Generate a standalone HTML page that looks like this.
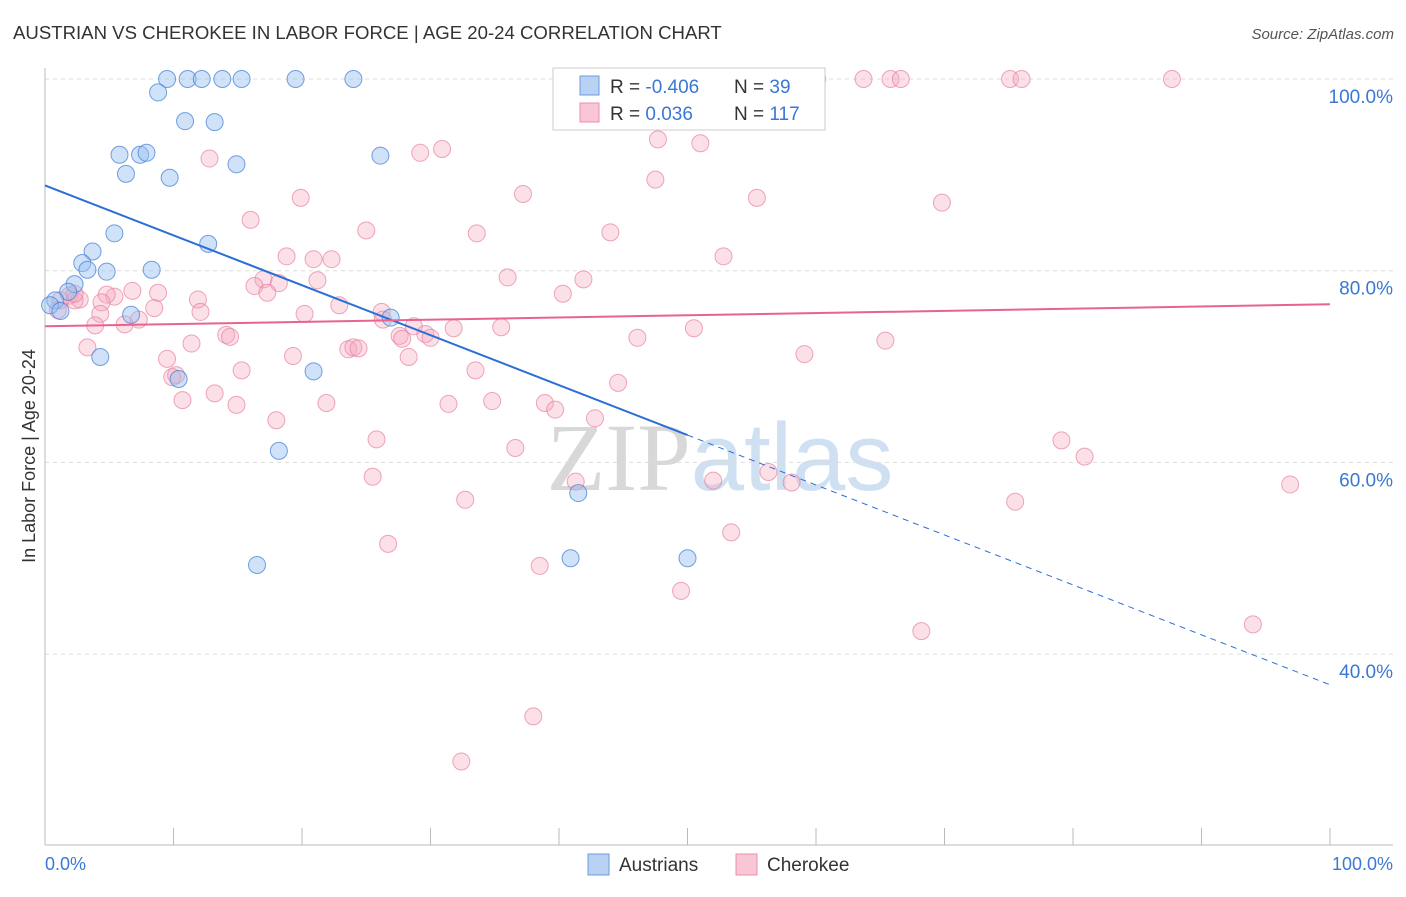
<!DOCTYPE html>
<html><head><meta charset="utf-8"><style>
body{margin:0;background:#fff;font-family:"Liberation Sans",sans-serif}
svg text{font-family:"Liberation Sans",sans-serif}
</style></head><body>
<svg width="1406" height="892" xmlns="http://www.w3.org/2000/svg">
<text x="13" y="39" font-size="18.6" fill="#333">AUSTRIAN VS CHEROKEE IN LABOR FORCE | AGE 20-24 CORRELATION CHART</text>
<text x="1394" y="39" font-size="15" fill="#555" font-style="italic" text-anchor="end">Source: ZipAtlas.com</text>
<text x="720" y="490" font-size="96" fill="#ddd" text-anchor="middle" font-family="Liberation Serif"><tspan font-family="Liberation Serif" fill="#d8d8d8">ZIP</tspan><tspan font-family="Liberation Sans" fill="#cfe0f3">atlas</tspan></text>
<g id="grid"></g>
<line x1="45" y1="68" x2="45" y2="845" stroke="#bbb"/>
<line x1="45" y1="845" x2="1393" y2="845" stroke="#bbb"/>
<g id="ticks"></g>
<text x="35" y="456" font-size="18" fill="#333" text-anchor="middle" transform="rotate(-90 35 456)">In Labor Force | Age 20-24</text>
<text x="45" y="870" font-size="18" fill="#3a78d4">0.0%</text>
<text x="1393" y="870" font-size="18" fill="#3a78d4" text-anchor="end">100.0%</text>
<g id="pts"></g>
<g id="lines"></g>
<g>
<rect x="553" y="68" width="272" height="62" fill="#fff" stroke="#ccc"/>
<rect x="580" y="76" width="19" height="19" fill="#b9d2f3" stroke="#6b9be0"/>
<rect x="580" y="103" width="19" height="19" fill="#f8c6d4" stroke="#eb8fae"/>
<text x="610" y="93" font-size="19" fill="#333">R = <tspan fill="#3a78d4">-0.406</tspan></text>
<text x="734" y="93" font-size="19" fill="#333">N = <tspan fill="#3a78d4"> 39</tspan></text>
<text x="610" y="120" font-size="19" fill="#333">R = <tspan fill="#3a78d4"> 0.036</tspan></text>
<text x="734" y="120" font-size="19" fill="#333">N = <tspan fill="#3a78d4">117</tspan></text>
</g>
<g>
<rect x="588" y="854" width="21" height="21" fill="#b9d2f3" stroke="#6b9be0"/>
<text x="619" y="871" font-size="19" fill="#333">Austrians</text>
<rect x="736" y="854" width="21" height="21" fill="#f8c6d4" stroke="#eb8fae"/>
<text x="767" y="871" font-size="19" fill="#333">Cherokee</text>
</g>
</svg>
<script>
const yTicks=[100,80,60,40];
const yTickLabels=["100.0%","80.0%","60.0%","40.0%"];
const xTicks=[10,20,30,40,50,60,70,80,90,100];
const austriansX=[9.5,11.1,12.2,13.8,15.3,19.5,24.0,8.8,10.9,13.2,5.8,7.4,7.9,6.3,9.7,14.9,26.1,5.4,3.7,12.7,2.9,3.3,4.8,8.3,2.3,1.8,0.8,0.4,1.2,6.7,26.9,4.3,20.9,10.4,18.2,41.5,16.5,40.9,50.0];
const austriansY=[100,100,100,100,100,100,100,98.6,95.6,95.5,92.1,92.1,92.3,90.1,89.7,91.1,92.0,83.9,82.0,82.8,80.8,80.1,79.9,80.1,78.6,77.8,76.9,76.4,75.8,75.4,75.1,71.0,69.5,68.7,61.2,56.8,49.3,50.0,50.0];
const cherokeeX=[58.8,60.1,63.7,65.8,66.6,75.1,76.0,87.7,47.7,51.0,12.8,29.2,30.9,47.5,37.2,19.9,55.4,69.8,16.0,25.0,33.6,44.0,18.8,20.9,22.3,52.8,36.0,41.9,21.2,17.0,18.2,16.3,17.3,40.3,8.8,11.9,6.8,5.4,4.8,2.7,1.9,2.3,1.2,4.4,22.9,20.2,12.1,8.5,4.3,26.2,26.3,6.2,3.9,7.3,28.7,31.8,35.5,50.5,27.6,29.6,30.0,27.8,14.1,14.4,46.1,65.4,3.3,11.4,23.6,24.0,24.4,59.1,19.3,9.5,28.3,15.3,33.5,44.6,10.2,9.9,13.2,10.7,14.9,34.8,31.4,38.9,21.9,39.7,18.0,42.8,25.8,36.6,79.1,80.9,25.5,52.0,56.3,58.1,41.3,32.7,75.5,96.9,26.7,53.4,38.5,49.5,68.2,94.0,38.0,32.4,2.3,1.0];
const cherokeeY=[100,100,100,100,100,100,100,100,93.7,93.3,91.7,92.3,92.7,89.5,88.0,87.6,87.6,87.1,85.3,84.2,83.9,84.0,81.5,81.2,81.2,81.5,79.3,79.1,79.0,79.1,78.7,78.4,77.7,77.6,77.7,77.0,77.9,77.3,77.5,77.0,77.4,76.9,76.9,76.7,76.4,75.5,75.7,76.1,75.5,75.7,74.9,74.4,74.3,74.9,74.2,74.0,74.1,74.0,73.2,73.4,73.0,72.9,73.3,73.1,73.0,72.7,72.0,72.4,71.8,72.0,71.9,71.3,71.1,70.8,71.0,69.6,69.6,68.3,69.1,68.9,67.2,66.5,66.0,66.4,66.1,66.2,66.2,65.5,64.4,64.6,62.4,61.5,62.3,60.6,58.5,58.1,59.0,57.9,58.0,56.1,55.9,57.7,51.5,52.7,49.2,46.6,42.4,43.1,33.5,28.8,77.6,75.9];
const austriansTrend=[88.9,36.8];
const cherokeeTrend=[74.2,76.5];
const NS="http://www.w3.org/2000/svg";
const xs=v=>45+v*12.85, ys=v=>79+(100-v)*9.585;
function mk(t,a,p){const e=document.createElementNS(NS,t);for(const k in a)e.setAttribute(k,a[k]);document.getElementById(p).appendChild(e);return e;}
yTicks.forEach((v,i)=>{
 const l=mk('line',{x1:45,x2:1393,y1:ys(v),y2:ys(v),stroke:'#ddd','stroke-dasharray':'4,4'},'grid');
 
 
 const t=mk('text',{x:1393,y:ys(v)+24,'font-size':19,fill:'#3a78d4','text-anchor':'end'},'grid');
 t.textContent=yTickLabels[i];
 
 
});
xTicks.forEach(v=>{
 const l=mk('line',{x1:xs(v),x2:xs(v),y1:828,y2:845,stroke:'#bbb'},'ticks');
 
 
});
cherokeeX.forEach((x,i)=>{
 const c=mk('circle',{cx:xs(x),cy:ys(cherokeeY[i]),r:8.5,fill:'rgba(244,166,190,0.35)',stroke:'rgba(232,128,160,0.7)','stroke-width':1},'pts');
 
 
});
austriansX.forEach((x,i)=>{
 const c=mk('circle',{cx:xs(x),cy:ys(austriansY[i]),r:8.5,fill:'rgba(150,190,240,0.45)',stroke:'rgba(70,130,215,0.75)','stroke-width':1},'pts');
 
 
});
const by=x=>austriansTrend[0]+(austriansTrend[1]-austriansTrend[0])*x/100;
let l1=mk('line',{x1:xs(0),y1:ys(by(0)),x2:xs(50),y2:ys(by(50)),stroke:'#2b6fd6','stroke-width':2},'lines');


let l2=mk('line',{x1:xs(50),y1:ys(by(50)),x2:xs(100),y2:ys(by(100)),stroke:'#2b6fd6','stroke-width':1,'stroke-dasharray':'6,5'},'lines');


let l3=mk('line',{x1:xs(0),y1:ys(cherokeeTrend[0]),x2:xs(100),y2:ys(cherokeeTrend[1]),stroke:'#e8648f','stroke-width':2},'lines');


</script>
</body></html>
